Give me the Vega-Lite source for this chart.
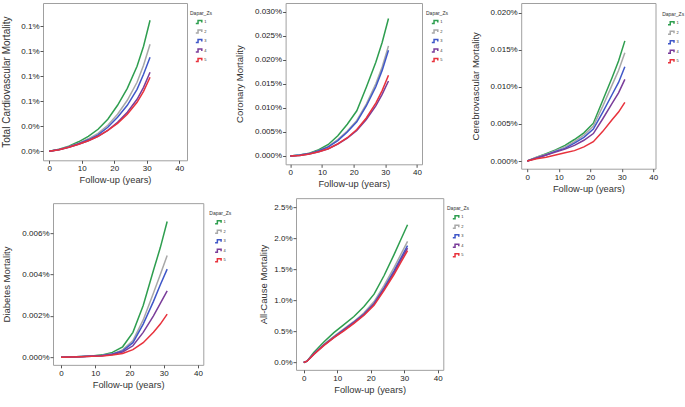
{
"$schema": "https://vega.github.io/schema/vega-lite/v6.json",
"padding": {"left": 1, "top": 2, "right": 0, "bottom": 0},
"background": "white",
"config": {
 "font": "Liberation Sans",
 "view": {"stroke": "#a0a0a0", "strokeWidth": 1},
 "axis": {"grid": false, "domain": false, "tickColor": "#555555", "tickSize": 3, "labelFontSize": 8, "labelColor": "#222222", "titleColor": "#333333", "titleFontWeight": "normal"},
 "axisX": {"titleFontSize": 9.3, "titlePadding": 3, "labelPadding": 1.5},
 "axisY": {"titleFontSize": 9.5, "titlePadding": 2, "labelPadding": 1},
 "legend": {"titleFontSize": 5, "titleFontWeight": "normal", "titleColor": "#333333", "titlePadding": 3, "labelFontSize": 4, "labelColor": "#333333", "symbolType": "M-1.4,0.6H-0.5V-0.6H1V0.2", "symbolSize": 25, "symbolStrokeWidth": 1, "symbolOffset": 5.8, "labelOffset": 1.5, "rowPadding": 0.5, "padding": 0, "direction": "vertical", "orient": "none"},
 "line": {"strokeWidth": 1.5}
},
"datasets": {
 "tc": [
  {"t":0,"g":"1","v":0},{"t":3,"g":"1","v":0.002},{"t":6,"g":"1","v":0.005},{"t":9,"g":"1","v":0.0095},{"t":12,"g":"1","v":0.015},{"t":15,"g":"1","v":0.022},{"t":18,"g":"1","v":0.032},{"t":21,"g":"1","v":0.046},{"t":24,"g":"1","v":0.063},{"t":27,"g":"1","v":0.085},{"t":29,"g":"1","v":0.105},{"t":31,"g":"1","v":0.131},
  {"t":0,"g":"2","v":0},{"t":3,"g":"2","v":0.0018},{"t":6,"g":"2","v":0.0045},{"t":9,"g":"2","v":0.008},{"t":12,"g":"2","v":0.0125},{"t":15,"g":"2","v":0.018},{"t":18,"g":"2","v":0.026},{"t":21,"g":"2","v":0.037},{"t":24,"g":"2","v":0.051},{"t":27,"g":"2","v":0.069},{"t":29,"g":"2","v":0.086},{"t":31,"g":"2","v":0.107},
  {"t":0,"g":"3","v":0},{"t":3,"g":"3","v":0.0017},{"t":6,"g":"3","v":0.0043},{"t":9,"g":"3","v":0.0075},{"t":12,"g":"3","v":0.0115},{"t":15,"g":"3","v":0.0165},{"t":18,"g":"3","v":0.024},{"t":21,"g":"3","v":0.034},{"t":24,"g":"3","v":0.046},{"t":27,"g":"3","v":0.062},{"t":29,"g":"3","v":0.077},{"t":31,"g":"3","v":0.094},
  {"t":0,"g":"4","v":0},{"t":3,"g":"4","v":0.0016},{"t":6,"g":"4","v":0.004},{"t":9,"g":"4","v":0.007},{"t":12,"g":"4","v":0.0105},{"t":15,"g":"4","v":0.015},{"t":18,"g":"4","v":0.021},{"t":21,"g":"4","v":0.029},{"t":24,"g":"4","v":0.039},{"t":27,"g":"4","v":0.052},{"t":29,"g":"4","v":0.064},{"t":31,"g":"4","v":0.079},
  {"t":0,"g":"5","v":0},{"t":3,"g":"5","v":0.0016},{"t":6,"g":"5","v":0.004},{"t":9,"g":"5","v":0.007},{"t":12,"g":"5","v":0.0105},{"t":15,"g":"5","v":0.015},{"t":18,"g":"5","v":0.021},{"t":21,"g":"5","v":0.028},{"t":24,"g":"5","v":0.037},{"t":27,"g":"5","v":0.049},{"t":29,"g":"5","v":0.06},{"t":31,"g":"5","v":0.074}
 ],
 "cor": [
  {"t":0,"g":"1","v":0},{"t":3,"g":"1","v":0.0002},{"t":6,"g":"1","v":0.0006},{"t":9,"g":"1","v":0.0013},{"t":12,"g":"1","v":0.0024},{"t":15,"g":"1","v":0.0042},{"t":18,"g":"1","v":0.0066},{"t":21,"g":"1","v":0.0094},{"t":24,"g":"1","v":0.0143},{"t":27,"g":"1","v":0.0195},{"t":29,"g":"1","v":0.0236},{"t":31,"g":"1","v":0.0286},
  {"t":0,"g":"2","v":0},{"t":3,"g":"2","v":0.0002},{"t":6,"g":"2","v":0.0005},{"t":9,"g":"2","v":0.0011},{"t":12,"g":"2","v":0.002},{"t":15,"g":"2","v":0.0034},{"t":18,"g":"2","v":0.0052},{"t":21,"g":"2","v":0.0074},{"t":24,"g":"2","v":0.0108},{"t":27,"g":"2","v":0.015},{"t":29,"g":"2","v":0.0185},{"t":31,"g":"2","v":0.0229},
  {"t":0,"g":"3","v":0},{"t":3,"g":"3","v":0.0002},{"t":6,"g":"3","v":0.0005},{"t":9,"g":"3","v":0.0011},{"t":12,"g":"3","v":0.0019},{"t":15,"g":"3","v":0.0032},{"t":18,"g":"3","v":0.005},{"t":21,"g":"3","v":0.0071},{"t":24,"g":"3","v":0.0104},{"t":27,"g":"3","v":0.0144},{"t":29,"g":"3","v":0.0178},{"t":31,"g":"3","v":0.022},
  {"t":0,"g":"4","v":0},{"t":3,"g":"4","v":0.0001},{"t":6,"g":"4","v":0.0004},{"t":9,"g":"4","v":0.0009},{"t":12,"g":"4","v":0.0015},{"t":15,"g":"4","v":0.0025},{"t":18,"g":"4","v":0.0037},{"t":21,"g":"4","v":0.0053},{"t":24,"g":"4","v":0.0076},{"t":27,"g":"4","v":0.0104},{"t":29,"g":"4","v":0.0128},{"t":31,"g":"4","v":0.0156},
  {"t":0,"g":"5","v":0},{"t":3,"g":"5","v":0.0001},{"t":6,"g":"5","v":0.0004},{"t":9,"g":"5","v":0.0009},{"t":12,"g":"5","v":0.0015},{"t":15,"g":"5","v":0.0025},{"t":18,"g":"5","v":0.0038},{"t":21,"g":"5","v":0.0055},{"t":24,"g":"5","v":0.0079},{"t":27,"g":"5","v":0.011},{"t":29,"g":"5","v":0.0136},{"t":31,"g":"5","v":0.0168}
 ],
 "cer": [
  {"t":0,"g":"1","v":0},{"t":3,"g":"1","v":0.0005},{"t":6,"g":"1","v":0.001},{"t":9,"g":"1","v":0.0015},{"t":12,"g":"1","v":0.0021},{"t":15,"g":"1","v":0.0029},{"t":18,"g":"1","v":0.0038},{"t":21,"g":"1","v":0.0051},{"t":24,"g":"1","v":0.0082},{"t":27,"g":"1","v":0.0113},{"t":29,"g":"1","v":0.0135},{"t":31,"g":"1","v":0.0162},
  {"t":0,"g":"2","v":0},{"t":3,"g":"2","v":0.0005},{"t":6,"g":"2","v":0.0009},{"t":9,"g":"2","v":0.0014},{"t":12,"g":"2","v":0.0019},{"t":15,"g":"2","v":0.0026},{"t":18,"g":"2","v":0.0035},{"t":21,"g":"2","v":0.0047},{"t":24,"g":"2","v":0.0074},{"t":27,"g":"2","v":0.0103},{"t":29,"g":"2","v":0.0122},{"t":31,"g":"2","v":0.0146},
  {"t":0,"g":"3","v":0},{"t":3,"g":"3","v":0.0004},{"t":6,"g":"3","v":0.0008},{"t":9,"g":"3","v":0.0013},{"t":12,"g":"3","v":0.0017},{"t":15,"g":"3","v":0.0024},{"t":18,"g":"3","v":0.0032},{"t":21,"g":"3","v":0.0043},{"t":24,"g":"3","v":0.0066},{"t":27,"g":"3","v":0.009},{"t":29,"g":"3","v":0.0106},{"t":31,"g":"3","v":0.0127},
  {"t":0,"g":"4","v":0},{"t":3,"g":"4","v":0.0004},{"t":6,"g":"4","v":0.0008},{"t":9,"g":"4","v":0.0012},{"t":12,"g":"4","v":0.0016},{"t":15,"g":"4","v":0.0021},{"t":18,"g":"4","v":0.0028},{"t":21,"g":"4","v":0.0037},{"t":24,"g":"4","v":0.0057},{"t":27,"g":"4","v":0.0078},{"t":29,"g":"4","v":0.0092},{"t":31,"g":"4","v":0.011},
  {"t":0,"g":"5","v":0},{"t":3,"g":"5","v":0.0003},{"t":6,"g":"5","v":0.0005},{"t":9,"g":"5","v":0.0008},{"t":12,"g":"5","v":0.0011},{"t":15,"g":"5","v":0.0014},{"t":18,"g":"5","v":0.0019},{"t":21,"g":"5","v":0.0026},{"t":24,"g":"5","v":0.004},{"t":27,"g":"5","v":0.0056},{"t":29,"g":"5","v":0.0066},{"t":31,"g":"5","v":0.0079}
 ],
 "dia": [
  {"t":0,"g":"1","v":0},{"t":3,"g":"1","v":0.00001},{"t":6,"g":"1","v":0.00003},{"t":9,"g":"1","v":0.00006},{"t":12,"g":"1","v":0.00011},{"t":15,"g":"1","v":0.00023},{"t":18,"g":"1","v":0.0005},{"t":21,"g":"1","v":0.0012},{"t":24,"g":"1","v":0.0025},{"t":27,"g":"1","v":0.0042},{"t":29,"g":"1","v":0.0053},{"t":31,"g":"1","v":0.00656},
  {"t":0,"g":"2","v":0},{"t":3,"g":"2","v":0.00001},{"t":6,"g":"2","v":0.00003},{"t":9,"g":"2","v":0.00005},{"t":12,"g":"2","v":0.00009},{"t":15,"g":"2","v":0.00016},{"t":18,"g":"2","v":0.00035},{"t":21,"g":"2","v":0.0008},{"t":24,"g":"2","v":0.0018},{"t":27,"g":"2","v":0.0031},{"t":29,"g":"2","v":0.004},{"t":31,"g":"2","v":0.00492},
  {"t":0,"g":"3","v":0},{"t":3,"g":"3","v":0.00001},{"t":6,"g":"3","v":0.00003},{"t":9,"g":"3","v":0.00005},{"t":12,"g":"3","v":0.00008},{"t":15,"g":"3","v":0.00015},{"t":18,"g":"3","v":0.0003},{"t":21,"g":"3","v":0.0007},{"t":24,"g":"3","v":0.0016},{"t":27,"g":"3","v":0.0027},{"t":29,"g":"3","v":0.0035},{"t":31,"g":"3","v":0.00426},
  {"t":0,"g":"4","v":0},{"t":3,"g":"4","v":0.00001},{"t":6,"g":"4","v":0.00002},{"t":9,"g":"4","v":0.00004},{"t":12,"g":"4","v":0.00007},{"t":15,"g":"4","v":0.00013},{"t":18,"g":"4","v":0.00025},{"t":21,"g":"4","v":0.00055},{"t":24,"g":"4","v":0.0012},{"t":27,"g":"4","v":0.002},{"t":29,"g":"4","v":0.0026},{"t":31,"g":"4","v":0.00321},
  {"t":0,"g":"5","v":0},{"t":3,"g":"5","v":0.00001},{"t":6,"g":"5","v":0.00002},{"t":9,"g":"5","v":0.00004},{"t":12,"g":"5","v":0.00006},{"t":15,"g":"5","v":0.0001},{"t":18,"g":"5","v":0.00018},{"t":21,"g":"5","v":0.00036},{"t":24,"g":"5","v":0.0007},{"t":27,"g":"5","v":0.0012},{"t":29,"g":"5","v":0.0016},{"t":31,"g":"5","v":0.00208}
 ],
 "all": [
  {"t":0,"g":"1","v":0},{"t":1,"g":"1","v":0.02},{"t":3,"g":"1","v":0.16},{"t":6,"g":"1","v":0.33},{"t":9,"g":"1","v":0.48},{"t":12,"g":"1","v":0.61},{"t":15,"g":"1","v":0.74},{"t":18,"g":"1","v":0.9},{"t":21,"g":"1","v":1.1},{"t":24,"g":"1","v":1.4},{"t":27,"g":"1","v":1.74},{"t":29,"g":"1","v":1.98},{"t":31,"g":"1","v":2.216},
  {"t":0,"g":"2","v":0},{"t":1,"g":"2","v":0.02},{"t":3,"g":"2","v":0.14},{"t":6,"g":"2","v":0.29},{"t":9,"g":"2","v":0.42},{"t":12,"g":"2","v":0.54},{"t":15,"g":"2","v":0.66},{"t":18,"g":"2","v":0.8},{"t":21,"g":"2","v":0.98},{"t":24,"g":"2","v":1.24},{"t":27,"g":"2","v":1.53},{"t":29,"g":"2","v":1.74},{"t":31,"g":"2","v":1.95},
  {"t":0,"g":"3","v":0},{"t":1,"g":"3","v":0.02},{"t":3,"g":"3","v":0.14},{"t":6,"g":"3","v":0.28},{"t":9,"g":"3","v":0.41},{"t":12,"g":"3","v":0.53},{"t":15,"g":"3","v":0.65},{"t":18,"g":"3","v":0.78},{"t":21,"g":"3","v":0.95},{"t":24,"g":"3","v":1.2},{"t":27,"g":"3","v":1.48},{"t":29,"g":"3","v":1.68},{"t":31,"g":"3","v":1.88},
  {"t":0,"g":"4","v":0},{"t":1,"g":"4","v":0.02},{"t":3,"g":"4","v":0.13},{"t":6,"g":"4","v":0.28},{"t":9,"g":"4","v":0.4},{"t":12,"g":"4","v":0.52},{"t":15,"g":"4","v":0.64},{"t":18,"g":"4","v":0.77},{"t":21,"g":"4","v":0.94},{"t":24,"g":"4","v":1.18},{"t":27,"g":"4","v":1.45},{"t":29,"g":"4","v":1.65},{"t":31,"g":"4","v":1.84},
  {"t":0,"g":"5","v":0},{"t":1,"g":"5","v":0.02},{"t":3,"g":"5","v":0.13},{"t":6,"g":"5","v":0.27},{"t":9,"g":"5","v":0.4},{"t":12,"g":"5","v":0.51},{"t":15,"g":"5","v":0.63},{"t":18,"g":"5","v":0.76},{"t":21,"g":"5","v":0.92},{"t":24,"g":"5","v":1.16},{"t":27,"g":"5","v":1.42},{"t":29,"g":"5","v":1.61},{"t":31,"g":"5","v":1.8}
 ]
},
"spacing": 3,
"resolve": {"scale": {"color": "independent"}, "legend": {"color": "independent"}},
"vconcat": [
 {
  "hconcat": [
   {
    "width": 144, "height": 157.3,
    "data": {"name": "tc"},
    "mark": {"type": "line"},
    "encoding": {
     "x": {"field": "t", "type": "quantitative", "scale": {"domain": [-1.94, 42.37], "nice": false, "zero": false}, "axis": {"values": [0, 10, 20, 30, 40], "title": "Follow-up (years)"}},
     "y": {"field": "v", "type": "quantitative", "scale": {"domain": [-0.009, 0.1483], "nice": false, "zero": false}, "axis": {"values": [0, 0.025, 0.05, 0.075, 0.1, 0.125], "labelExpr": "datum.value < 0.04 ? '0.0%' : '0.1%'", "title": "Total Cardiovascular Mortality", "titleFontSize": 10, "minExtent": 29.5, "maxExtent": 29.5}},
     "color": {"field": "g", "type": "nominal", "scale": {"domain": ["1", "2", "3", "4", "5"], "range": ["#2e9e4f", "#a8a8a8", "#3f57c8", "#7a3d9a", "#e8323c"]}, "legend": {"title": "Dapar_Zs", "legendX": 147, "legendY": 7.5}}
    }
   },
   {
    "width": 136.4, "height": 161.3,
    "data": {"name": "cor"},
    "mark": {"type": "line"},
    "encoding": {
     "x": {"field": "t", "type": "quantitative", "scale": {"domain": [-1.48, 41.58], "nice": false, "zero": false}, "axis": {"values": [0, 10, 20, 30, 40], "title": "Follow-up (years)"}},
     "y": {"field": "v", "type": "quantitative", "scale": {"domain": [-0.001726, 0.03181], "nice": false, "zero": false}, "axis": {"values": [0, 0.005, 0.01, 0.015, 0.02, 0.025, 0.03], "labelExpr": "format(datum.value, '.3f') + '%'", "title": "Coronary Mortality", "minExtent": 38.8, "maxExtent": 38.8}},
     "color": {"field": "g", "type": "nominal", "scale": {"domain": ["1", "2", "3", "4", "5"], "range": ["#2e9e4f", "#a8a8a8", "#3f57c8", "#7a3d9a", "#e8323c"]}, "legend": {"title": "Dapar_Zs", "legendX": 140.4, "legendY": 7.5}}
    }
   },
   {
    "width": 134.3, "height": 165.7,
    "data": {"name": "cer"},
    "mark": {"type": "line"},
    "encoding": {
     "x": {"field": "t", "type": "quantitative", "scale": {"domain": [-1.905, 40.73], "nice": false, "zero": false}, "axis": {"values": [0, 10, 20, 30, 40], "title": "Follow-up (years)"}},
     "y": {"field": "v", "type": "quantitative", "scale": {"domain": [-0.001038, 0.02131], "nice": false, "zero": false}, "axis": {"values": [0, 0.005, 0.01, 0.015, 0.02], "labelExpr": "format(datum.value, '.3f') + '%'", "title": "Cerebrovascular Mortality", "minExtent": 39.2, "maxExtent": 39.2}},
     "color": {"field": "g", "type": "nominal", "scale": {"domain": ["1", "2", "3", "4", "5"], "range": ["#2e9e4f", "#a8a8a8", "#3f57c8", "#7a3d9a", "#e8323c"]}, "legend": {"title": "Dapar_Zs", "legendX": 141, "legendY": 8.8}}
    }
   }
  ],
  "spacing": 98.6,
  "bounds": "flush",
  "resolve": {"scale": {"color": "independent"}, "legend": {"color": "independent"}}
 },
 {
  "hconcat": [
   {
    "width": 9.7, "height": 10,
    "data": {"values": []},
    "mark": {"type": "point"},
    "view": {"stroke": null}
   },
   {
    "hconcat": [
     {
      "width": 150.3, "height": 161.7,
      "data": {"name": "dia"},
      "mark": {"type": "line"},
      "encoding": {
       "x": {"field": "t", "type": "quantitative", "scale": {"domain": [-2.34, 41.55], "nice": false, "zero": false}, "axis": {"values": [0, 10, 20, 30, 40], "title": "Follow-up (years)"}},
       "y": {"field": "v", "type": "quantitative", "scale": {"domain": [-0.000373, 0.00745], "nice": false, "zero": false}, "axis": {"values": [0, 0.002, 0.004, 0.006], "labelExpr": "format(datum.value, '.3f') + '%'", "title": "Diabetes Mortality", "minExtent": 39.2, "maxExtent": 39.2}},
       "color": {"field": "g", "type": "nominal", "scale": {"domain": ["1", "2", "3", "4", "5"], "range": ["#2e9e4f", "#a8a8a8", "#3f57c8", "#7a3d9a", "#e8323c"]}, "legend": {"title": "Dapar_Zs", "legendX": 156.3, "legendY": 7.5}}
      }
     },
     {
      "width": 147.3, "height": 171.7,
      "data": {"name": "all"},
      "mark": {"type": "line"},
      "encoding": {
       "x": {"field": "t", "type": "quantitative", "scale": {"domain": [-2.3, 41.67], "nice": false, "zero": false}, "axis": {"values": [0, 10, 20, 30, 40], "title": "Follow-up (years)"}},
       "y": {"field": "v", "type": "quantitative", "scale": {"domain": [-0.119, 2.645], "nice": false, "zero": false}, "axis": {"values": [0, 0.5, 1, 1.5, 2, 2.5], "labelExpr": "format(datum.value, '.1f') + '%'", "title": "All-Cause Mortality", "minExtent": 25.5, "maxExtent": 25.5}},
       "color": {"field": "g", "type": "nominal", "scale": {"domain": ["1", "2", "3", "4", "5"], "range": ["#2e9e4f", "#a8a8a8", "#3f57c8", "#7a3d9a", "#e8323c"]}, "legend": {"title": "Dapar_Zs", "legendX": 151, "legendY": 7.5}}
      }
     }
    ],
    "spacing": 92,
    "bounds": "flush",
    "center": true,
    "resolve": {"scale": {"color": "independent"}, "legend": {"color": "independent"}}
   }
  ],
  "spacing": 0,
  "bounds": "flush",
  "resolve": {"scale": {"color": "independent"}, "legend": {"color": "independent"}}
 }
]
}
